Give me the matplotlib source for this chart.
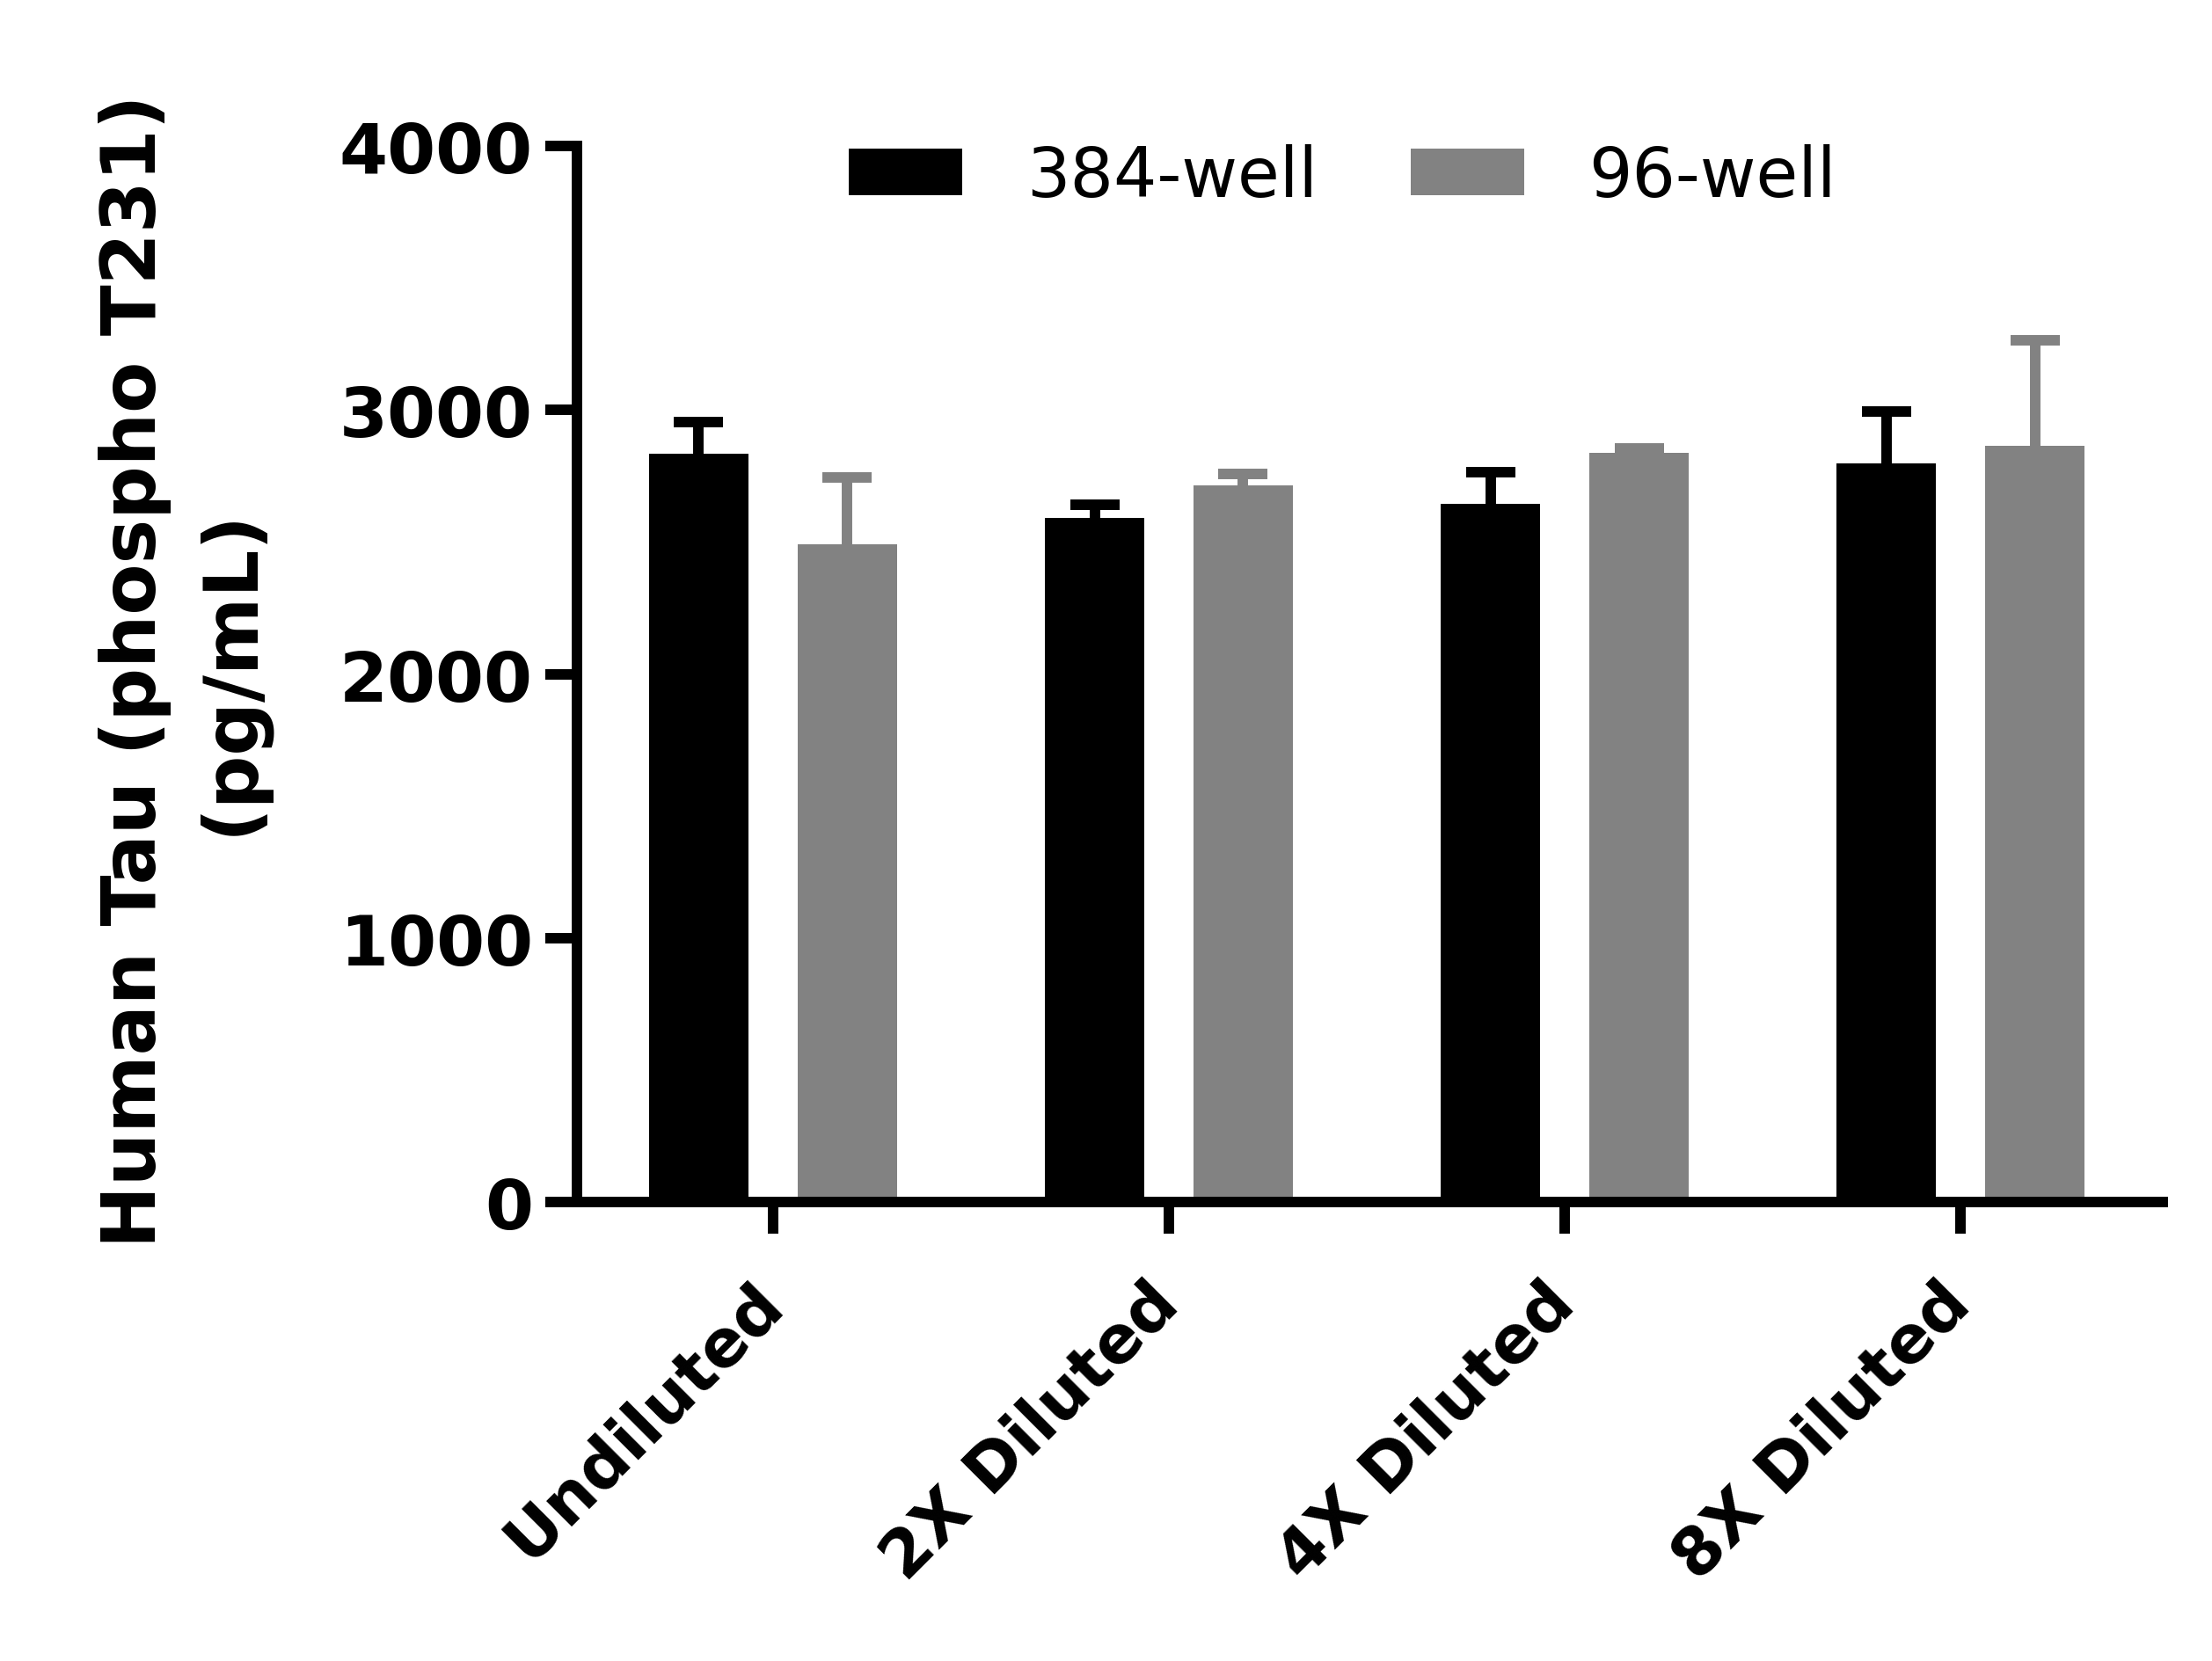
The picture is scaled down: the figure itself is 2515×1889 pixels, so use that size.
import numpy as np
import matplotlib
matplotlib.use('Agg')
from matplotlib import pyplot as plt

categories = ['Undiluted', '2X Diluted', '4X Diluted', '8X Diluted']
series_names = ['384-well', '96-well']
well384_mean = [2834, 2591, 2644, 2798]
well384_err = [120, 49, 119, 198]
well96_mean = [2491, 2714, 2838, 2864]
well96_err = [252, 43, 16, 399]
y_ticks = [0, 1000, 2000, 3000, 4000]

plt.rcParams['font.family'] = ['DejaVu Sans']

fig = plt.figure(figsize=(25.15, 18.9), dpi=100)
ax = fig.add_axes([0.2608, 0.2762, 0.7169, 0.6354])

x = np.arange(len(categories))
w = 0.251
off = 0.1875
lw = 8.6

for xs, mean, err, color, name in [(x - off, well384_mean, well384_err, '#000000', series_names[0]),
                                   (x + off, well96_mean, well96_err, '#828282', series_names[1])]:
    ax.bar(xs, mean, width=w, color=color, label=name, zorder=2)
    eb = ax.errorbar(xs, mean, yerr=[np.zeros(len(err)), err], fmt='none', ecolor=color,
                     elinewidth=lw, capsize=20, capthick=lw, zorder=1)
    # only upper caps, like the original
    eb[1][0].set_visible(False)

ax.set_xlim(-0.495, 3.51)
ax.set_ylim(0, 4000)
ax.set_yticks(y_ticks)
ax.set_yticklabels([str(v) for v in y_ticks], fontsize=57, fontweight='bold')
ax.set_xticks(x)
ax.set_xticklabels(categories, fontsize=54, fontweight='bold', rotation=45,
                   ha='right', va='center', rotation_mode='anchor')

for s in ['top', 'right']:
    ax.spines[s].set_visible(False)
for s in ['left', 'bottom']:
    ax.spines[s].set_linewidth(lw)
ax.tick_params(axis='both', length=26, width=lw, direction='out')
ax.tick_params(axis='y', pad=10)
ax.tick_params(axis='x', pad=49)

fig.text(0.083, 0.596, 'Human Tau (phospho T231)\n(pg/mL)', rotation=90, ha='center',
         va='center', multialignment='center', fontsize=61, fontweight='bold', linespacing=1.4)

fig.legend(loc='center', bbox_to_anchor=(0.607, 0.893), ncol=2, frameon=False, fontsize=56,
           handlelength=1.65, handleheight=0.67, handletextpad=0.95, columnspacing=1.36)

plt.savefig('out.png', dpi=100)
